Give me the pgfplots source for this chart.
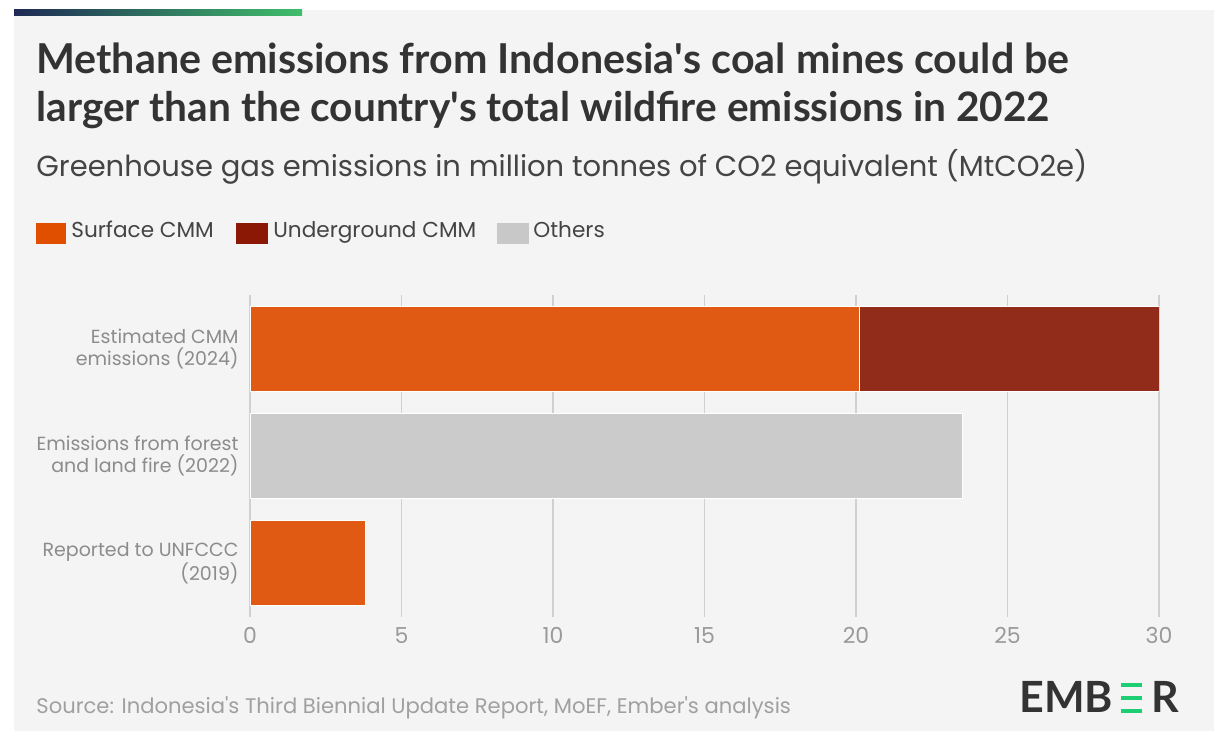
\documentclass[border=0pt]{standalone}
\usepackage{fontspec}
\setmainfont{Lato}
\newfontfamily\pop{Poppins}
\usepackage{pgfplots}
\usepackage{pgfplotstable}
\pgfplotsset{compat=1.18}
\definecolor{bg}{HTML}{F4F4F4}
\definecolor{navy}{HTML}{1E2A55}
\definecolor{grn}{HTML}{40BE6A}
\definecolor{titlec}{HTML}{333333}
\definecolor{subc}{HTML}{444444}
\definecolor{ylabc}{HTML}{8C8C8C}
\definecolor{tickc}{HTML}{9A9A9A}
\definecolor{srcc}{HTML}{A0A0A0}
\definecolor{gridc}{HTML}{D0D0D0}
\definecolor{surf}{HTML}{E05A14}
\definecolor{under}{HTML}{912C1B}
\definecolor{oth}{HTML}{CBCBCB}
\definecolor{lsurf}{HTML}{E04E00}
\definecolor{lunder}{HTML}{8B1805}
\definecolor{loth}{HTML}{C8C8C8}
\definecolor{logoc}{HTML}{333333}
\definecolor{logog}{HTML}{1DCE72}
\pgfplotstableread{
y others surface under
0 0    20.1 9.9
1 23.5 0    0
2 0    3.8  0
}\datatable
\begin{document}
\begin{tikzpicture}
\fill[white] (0,0) rectangle (607pt,365.5pt);
\fill[bg] (7pt,0) rectangle (607pt,360.5pt);
\shade[left color=navy, right color=grn] (7pt,357.75pt) rectangle (151pt,360.5pt);
\node[anchor=base west, inner sep=0, text=titlec, font=\fontsize{20.6}{24}\selectfont\bfseries] at (18pt,328.5pt) {Methane emissions from Indonesia\textquotesingle s coal mines could be};
\node[anchor=base west, inner sep=0, text=titlec, font=\fontsize{20.3}{24}\selectfont\bfseries] at (18pt,304.5pt) {larger than the country\textquotesingle s total wildfire emissions in 2022};
\node[anchor=base west, inner sep=0, text=subc, font=\pop\fontsize{14.5}{16}\selectfont] at (18pt,277pt) {Greenhouse gas emissions in million tonnes of CO2 equivalent (MtCO2e)};
% legend
\fill[lsurf] (18pt,243.5pt) rectangle (33pt,254pt);
\node[anchor=base west, inner sep=0, text=subc, font=\pop\fontsize{10.8}{12}\selectfont] at (35.5pt,246.5pt) {Surface CMM};
\fill[lunder] (118pt,243.5pt) rectangle (134pt,254pt);
\node[anchor=base west, inner sep=0, text=subc, font=\pop\fontsize{10.8}{12}\selectfont] at (136.5pt,246.5pt) {Underground CMM};
\fill[loth] (248.5pt,243.5pt) rectangle (264.5pt,254pt);
\node[anchor=base west, inner sep=0, text=subc, font=\pop\fontsize{10.8}{12}\selectfont] at (266.5pt,246.5pt) {Others};
% source
\node[anchor=base west, inner sep=0, text=srcc, font=\pop\fontsize{10.55}{12}\selectfont] at (18pt,8.5pt) {Source: Indonesia\textquotesingle s Third Biennial Update Report, MoEF, Ember\textquotesingle s analysis};
% logo
\node[anchor=base west, inner sep=0, text=logoc, font=\fontsize{21.5}{24}\selectfont\bfseries] at (509.5pt,9pt) {EMB};
\fill[logog] (560.5pt,22pt) rectangle (571pt,24pt);
\fill[logog] (560.5pt,15.5pt) rectangle (571pt,17.5pt);
\fill[logog] (560.5pt,9pt) rectangle (571pt,11pt);
\node[anchor=base west, inner sep=0, text=logoc, font=\fontsize{21.5}{24}\selectfont\bfseries] at (575.5pt,9pt) {R};
\begin{axis}[
  at={(125pt,57pt)}, anchor=south west,
  width=454.5pt, height=161pt, scale only axis,
  xbar stacked, bar width=42.5pt,
  xmin=0, xmax=30, ymin=-0.5, ymax=2.5, y dir=reverse,
  xtick={0,5,...,30}, ytick={0,1,2},
  yticklabels={{Estimated CMM\\emissions (2024)},{Emissions from forest\\and land fire (2022)},{Reported to UNFCCC\\(2019)}},
  xmajorgrids, major grid style={draw=gridc, line width=0.75pt},
  axis line style={draw=none}, major tick length=0pt,
  /pgf/number format/assume math mode=true,
  xticklabel style={text=tickc, font=\pop\fontsize{11}{13}\selectfont, inner sep=0pt, anchor=north, yshift=-5pt},
  yticklabel style={text=ylabc, font=\pop\fontsize{9.5}{10.9}\selectfont, align=right, inner sep=0pt, anchor=east, xshift=-5.5pt},
]
\addplot[fill=oth, draw=white, line width=0.5pt] table[x=others, y=y]{\datatable};
\addplot[fill=surf, draw=white, line width=0.5pt] table[x=surface, y=y]{\datatable};
\addplot[fill=under, draw=white, line width=0.5pt] table[x=under, y=y]{\datatable};
\end{axis}
\end{tikzpicture}
\end{document}
